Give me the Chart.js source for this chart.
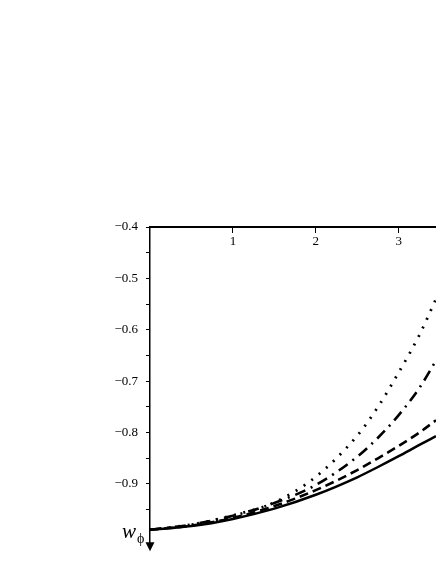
<!DOCTYPE html>
<html>
<head>
<meta charset="utf-8">
<script src="https://cdn.jsdelivr.net/npm/chart.js@4"></script>
<style>
  html, body { margin: 0; padding: 0; background: #fff; }
  canvas { display: block; }
</style>
</head>
<body>
<canvas id="wphi" width="436" height="564"></canvas>
<script>
const xs = [0, 0.5, 1, 1.5, 2, 2.5, 2.75, 3, 3.25, 3.45];

// four curves of w_phi
const solidVals   = [-0.989, -0.982, -0.968, -0.948, -0.921, -0.887, -0.867, -0.846, -0.824, -0.807];
const dashedVals  = [-0.989, -0.981, -0.966, -0.943, -0.912, -0.873, -0.850, -0.826, -0.800, -0.776];
const dashDotVals = [-0.989, -0.979, -0.962, -0.937, -0.902, -0.847, -0.810, -0.766, -0.713, -0.660];
const dottedVals  = [-0.989, -0.979, -0.961, -0.936, -0.886, -0.806, -0.750, -0.683, -0.610, -0.540];

// ticks
const xTicks = [1, 2, 3];
const yMajorTicks = [-0.4, -0.5, -0.6, -0.7, -0.8, -0.9];
const yMinorTicks = [-0.45, -0.55, -0.65, -0.75, -0.85, -0.95];
const yTickLabels = ["\u22120.4", "\u22120.5", "\u22120.6", "\u22120.7", "\u22120.8", "\u22120.9"];

(function () {
  const FONT = "'Liberation Serif', 'DejaVu Serif', serif";
  const pts = (vals) => xs.map((x, i) => ({ x, y: vals[i] }));

  const line = (data, dash, width) => ({
    data: pts(data),
    borderColor: "#000",
    borderWidth: width,
    borderDash: dash || [],
    pointRadius: 0,
    cubicInterpolationMode: "monotone",
    fill: false
  });

  // arrow at the bottom of the y axis + the w_phi label
  const axisDecor = {
    id: "axisDecor",
    afterDraw(chart) {
      const { ctx, chartArea } = chart;
      const x0 = chartArea.left;
      ctx.save();
      ctx.fillStyle = "#000";
      ctx.beginPath();
      ctx.moveTo(x0 - 4.5, chartArea.bottom - 6);
      ctx.lineTo(x0 + 4.5, chartArea.bottom - 6);
      ctx.lineTo(x0, chartArea.bottom + 3);
      ctx.closePath();
      ctx.fill();

      ctx.textBaseline = "alphabetic";
      ctx.textAlign = "left";
      ctx.font = "italic 21px " + FONT;
      ctx.fillText("w", 122, 538);
      ctx.font = "14px " + FONT;
      ctx.fillText("\u03D5", 137, 543);
      ctx.restore();
    }
  };

  new Chart(document.getElementById("wphi"), {
    type: "line",
    data: {
      datasets: [
        line(solidVals, [], 2.5),
        line(dashedVals, [9, 5], 2.6),
        line(dashDotVals, [11, 6, 2, 6], 2.6),
        line(dottedVals, [2, 7.5], 2.8)
      ]
    },
    options: {
      responsive: false,
      animation: false,
      layout: { padding: { top: 227, left: 0, right: 0, bottom: 0 } },
      plugins: { legend: { display: false }, tooltip: { enabled: false } },
      scales: {
        x: {
          type: "linear",
          position: { y: -0.4 },
          min: 0,
          max: 3.45,
          afterFit: (s) => { s.height = 14; },
          afterBuildTicks: (s) => { s.ticks = xTicks.map(v => ({ value: v })); },
          grid: { drawOnChartArea: false, drawTicks: true, tickLength: 5, color: "#000", lineWidth: 1 },
          border: { display: true, color: "#000", width: 2 },
          ticks: {
            color: "#000",
            font: { family: FONT, size: 13 },
            padding: 2,
            maxRotation: 0,
            autoSkip: false,
            callback: (v) => String(v)
          }
        },
        y: {
          type: "linear",
          position: "left",
          min: -1.025,
          max: -0.4,
          afterFit: (s) => { s.width = 150; },
          afterBuildTicks: (s) => {
            s.ticks = yMajorTicks.concat(yMinorTicks).sort((a, b) => a - b).map(v => ({ value: v }));
          },
          grid: { drawOnChartArea: false, drawTicks: true, tickLength: 4, color: "#000", lineWidth: 1 },
          border: { display: true, color: "#000", width: 1.5 },
          ticks: {
            color: "#000",
            font: { family: FONT, size: 13 },
            padding: 8,
            autoSkip: false,
            callback: (v) => {
              const i = yMajorTicks.findIndex(t => Math.abs(t - v) < 1e-6);
              return i >= 0 ? yTickLabels[i] : "";
            }
          }
        }
      }
    },
    plugins: [axisDecor]
  });
})();
</script>
</body>
</html>
